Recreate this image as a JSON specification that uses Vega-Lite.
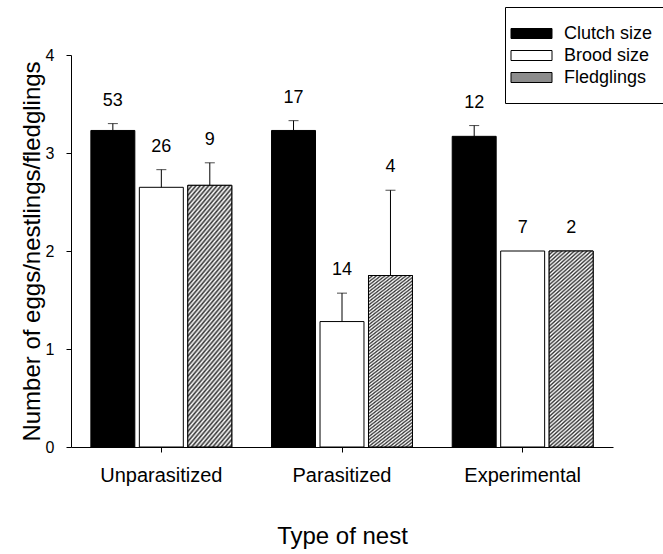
{
  "$schema": "https://vega.github.io/schema/vega-lite/v6.json",
  "autosize": {"type": "none"},
  "padding": {"left": 71, "top": 55, "right": 50, "bottom": 107},
  "width": 542,
  "height": 392,
  "background": "white",
  "config": {
    "view": {"stroke": null},
    "font": "Liberation Sans",
    "axis": {"grid": false, "domainColor": "black", "tickColor": "black", "labelColor": "black", "titleColor": "black", "titleFontWeight": "normal", "labelFont": "Liberation Sans", "titleFont": "Liberation Sans"}
  },
  "data": {
    "values": [
      {"nest": "Unparasitized", "type": "Clutch size", "mean": 3.23, "upper": 3.30, "n": 53},
      {"nest": "Unparasitized", "type": "Brood size", "mean": 2.65, "upper": 2.83, "n": 26},
      {"nest": "Unparasitized", "type": "Fledglings", "mean": 2.67, "upper": 2.90, "n": 9},
      {"nest": "Parasitized", "type": "Clutch size", "mean": 3.23, "upper": 3.33, "n": 17},
      {"nest": "Parasitized", "type": "Brood size", "mean": 1.28, "upper": 1.57, "n": 14},
      {"nest": "Parasitized", "type": "Fledglings", "mean": 1.75, "upper": 2.62, "n": 4},
      {"nest": "Experimental", "type": "Clutch size", "mean": 3.17, "upper": 3.28, "n": 12},
      {"nest": "Experimental", "type": "Brood size", "mean": 2.00, "upper": 2.00, "n": 7},
      {"nest": "Experimental", "type": "Fledglings", "mean": 2.00, "upper": 2.00, "n": 2}
    ]
  },
  "encoding": {
    "x": {
      "field": "nest", "type": "nominal",
      "sort": ["Unparasitized", "Parasitized", "Experimental"],
      "scale": {"paddingInner": 0.22, "paddingOuter": 0.11},
      "axis": {"labelAngle": 0, "labelFontSize": 20, "tickSize": 5, "labelPadding": 13, "title": "Type of nest", "titleFontSize": 24, "titlePadding": 39}
    },
    "xOffset": {
      "field": "type", "type": "nominal",
      "sort": ["Clutch size", "Brood size", "Fledglings"],
      "scale": {"paddingInner": 0.093, "paddingOuter": 0}
    }
  },
  "layer": [
    {
      "mark": {"type": "bar", "stroke": "black", "strokeWidth": 1},
      "encoding": {
        "y": {
          "field": "mean", "type": "quantitative",
          "scale": {"domain": [0, 4], "nice": false},
          "axis": {"values": [0, 1, 2, 3, 4], "format": "d", "labelFontSize": 16, "tickSize": 5, "labelPadding": 12, "title": "Number of eggs/nestlings/fledglings", "titleFontSize": 24, "titlePadding": 1}
        },
        "fill": {
          "field": "type", "type": "nominal",
          "sort": ["Clutch size", "Brood size", "Fledglings"],
          "scale": {"range": ["black", "white", "#8c8c8c"]},
          "legend": {
            "title": null,
            "orient": "none",
            "legendX": 434,
            "legendY": -48,
            "direction": "vertical",
            "strokeColor": "black",
            "fillColor": "white",
            "padding": 16,
            "rowPadding": 2,
            "labelFontSize": 18,
            "labelFont": "Liberation Sans",
            "labelColor": "black",
            "labelOffset": 22,
            "symbolType": "M-2.05,-0.5H2.05V0.5H-2.05Z",
            "symbolSize": 400,
            "symbolStrokeColor": "black",
            "symbolStrokeWidth": 1,
            "symbolOpacity": 1,
            "encode": {
              "symbols": {
                "update": {
                  "stroke": {"value": "black"},
                  "strokeWidth": {"value": 1}
                }
              }
            }
          }
        }
      }
    },
    {
      "transform": [{"filter": "datum.type === 'Fledglings'"}],
      "mark": {
        "type": "bar", "stroke": "black", "strokeWidth": 1,
        "fill": {"gradient": "linear", "x1": 0, "y1": 0, "x2": 0.2308, "y2": 1.1538, "stops": [
          {"offset": 0, "color": "#333"}, {"offset": 0.008, "color": "#fff"}, {"offset": 0.016, "color": "#333"}, {"offset": 0.024, "color": "#fff"}, {"offset": 0.032, "color": "#333"}, {"offset": 0.04, "color": "#fff"}, {"offset": 0.048, "color": "#333"}, {"offset": 0.056, "color": "#fff"}, {"offset": 0.064, "color": "#333"}, {"offset": 0.072, "color": "#fff"},
          {"offset": 0.08, "color": "#333"}, {"offset": 0.088, "color": "#fff"}, {"offset": 0.096, "color": "#333"}, {"offset": 0.104, "color": "#fff"}, {"offset": 0.112, "color": "#333"}, {"offset": 0.12, "color": "#fff"}, {"offset": 0.128, "color": "#333"}, {"offset": 0.136, "color": "#fff"}, {"offset": 0.144, "color": "#333"}, {"offset": 0.152, "color": "#fff"},
          {"offset": 0.16, "color": "#333"}, {"offset": 0.168, "color": "#fff"}, {"offset": 0.176, "color": "#333"}, {"offset": 0.184, "color": "#fff"}, {"offset": 0.192, "color": "#333"}, {"offset": 0.2, "color": "#fff"}, {"offset": 0.208, "color": "#333"}, {"offset": 0.216, "color": "#fff"}, {"offset": 0.224, "color": "#333"}, {"offset": 0.232, "color": "#fff"},
          {"offset": 0.24, "color": "#333"}, {"offset": 0.248, "color": "#fff"}, {"offset": 0.256, "color": "#333"}, {"offset": 0.264, "color": "#fff"}, {"offset": 0.272, "color": "#333"}, {"offset": 0.28, "color": "#fff"}, {"offset": 0.288, "color": "#333"}, {"offset": 0.296, "color": "#fff"}, {"offset": 0.304, "color": "#333"}, {"offset": 0.312, "color": "#fff"},
          {"offset": 0.32, "color": "#333"}, {"offset": 0.328, "color": "#fff"}, {"offset": 0.336, "color": "#333"}, {"offset": 0.344, "color": "#fff"}, {"offset": 0.352, "color": "#333"}, {"offset": 0.36, "color": "#fff"}, {"offset": 0.368, "color": "#333"}, {"offset": 0.376, "color": "#fff"}, {"offset": 0.384, "color": "#333"}, {"offset": 0.392, "color": "#fff"},
          {"offset": 0.4, "color": "#333"}, {"offset": 0.408, "color": "#fff"}, {"offset": 0.416, "color": "#333"}, {"offset": 0.424, "color": "#fff"}, {"offset": 0.432, "color": "#333"}, {"offset": 0.44, "color": "#fff"}, {"offset": 0.448, "color": "#333"}, {"offset": 0.456, "color": "#fff"}, {"offset": 0.464, "color": "#333"}, {"offset": 0.472, "color": "#fff"},
          {"offset": 0.48, "color": "#333"}, {"offset": 0.488, "color": "#fff"}, {"offset": 0.496, "color": "#333"}, {"offset": 0.504, "color": "#fff"}, {"offset": 0.512, "color": "#333"}, {"offset": 0.52, "color": "#fff"}, {"offset": 0.528, "color": "#333"}, {"offset": 0.536, "color": "#fff"}, {"offset": 0.544, "color": "#333"}, {"offset": 0.552, "color": "#fff"},
          {"offset": 0.56, "color": "#333"}, {"offset": 0.568, "color": "#fff"}, {"offset": 0.576, "color": "#333"}, {"offset": 0.584, "color": "#fff"}, {"offset": 0.592, "color": "#333"}, {"offset": 0.6, "color": "#fff"}, {"offset": 0.608, "color": "#333"}, {"offset": 0.616, "color": "#fff"}, {"offset": 0.624, "color": "#333"}, {"offset": 0.632, "color": "#fff"},
          {"offset": 0.64, "color": "#333"}, {"offset": 0.648, "color": "#fff"}, {"offset": 0.656, "color": "#333"}, {"offset": 0.664, "color": "#fff"}, {"offset": 0.672, "color": "#333"}, {"offset": 0.68, "color": "#fff"}, {"offset": 0.688, "color": "#333"}, {"offset": 0.696, "color": "#fff"}, {"offset": 0.704, "color": "#333"}, {"offset": 0.712, "color": "#fff"},
          {"offset": 0.72, "color": "#333"}, {"offset": 0.728, "color": "#fff"}, {"offset": 0.736, "color": "#333"}, {"offset": 0.744, "color": "#fff"}, {"offset": 0.752, "color": "#333"}, {"offset": 0.76, "color": "#fff"}, {"offset": 0.768, "color": "#333"}, {"offset": 0.776, "color": "#fff"}, {"offset": 0.784, "color": "#333"}, {"offset": 0.792, "color": "#fff"},
          {"offset": 0.8, "color": "#333"}, {"offset": 0.808, "color": "#fff"}, {"offset": 0.816, "color": "#333"}, {"offset": 0.824, "color": "#fff"}, {"offset": 0.832, "color": "#333"}, {"offset": 0.84, "color": "#fff"}, {"offset": 0.848, "color": "#333"}, {"offset": 0.856, "color": "#fff"}, {"offset": 0.864, "color": "#333"}, {"offset": 0.872, "color": "#fff"},
          {"offset": 0.88, "color": "#333"}, {"offset": 0.888, "color": "#fff"}, {"offset": 0.896, "color": "#333"}, {"offset": 0.904, "color": "#fff"}, {"offset": 0.912, "color": "#333"}, {"offset": 0.92, "color": "#fff"}, {"offset": 0.928, "color": "#333"}, {"offset": 0.936, "color": "#fff"}, {"offset": 0.944, "color": "#333"}, {"offset": 0.952, "color": "#fff"},
          {"offset": 0.96, "color": "#333"}, {"offset": 0.968, "color": "#fff"}, {"offset": 0.976, "color": "#333"}, {"offset": 0.984, "color": "#fff"}, {"offset": 0.992, "color": "#333"}, {"offset": 1, "color": "#fff"}
        ]}
      },
      "encoding": {
        "y": {"field": "mean", "type": "quantitative"}
      }
    },
    {
      "transform": [{"filter": "datum.upper > datum.mean"}],
      "mark": {"type": "rule", "color": "black", "strokeWidth": 1},
      "encoding": {
        "y": {"field": "mean", "type": "quantitative"},
        "y2": {"field": "upper"}
      }
    },
    {
      "transform": [{"filter": "datum.upper > datum.mean"}],
      "mark": {"type": "tick", "orient": "horizontal", "color": "black", "size": 10, "thickness": 1},
      "encoding": {
        "y": {"field": "upper", "type": "quantitative"}
      }
    },
    {
      "mark": {"type": "text", "fontSize": 18, "baseline": "middle", "dy": -23, "color": "black", "font": "Liberation Sans"},
      "encoding": {
        "y": {"field": "upper", "type": "quantitative"},
        "text": {"field": "n", "type": "quantitative"}
      }
    }
  ]
}
